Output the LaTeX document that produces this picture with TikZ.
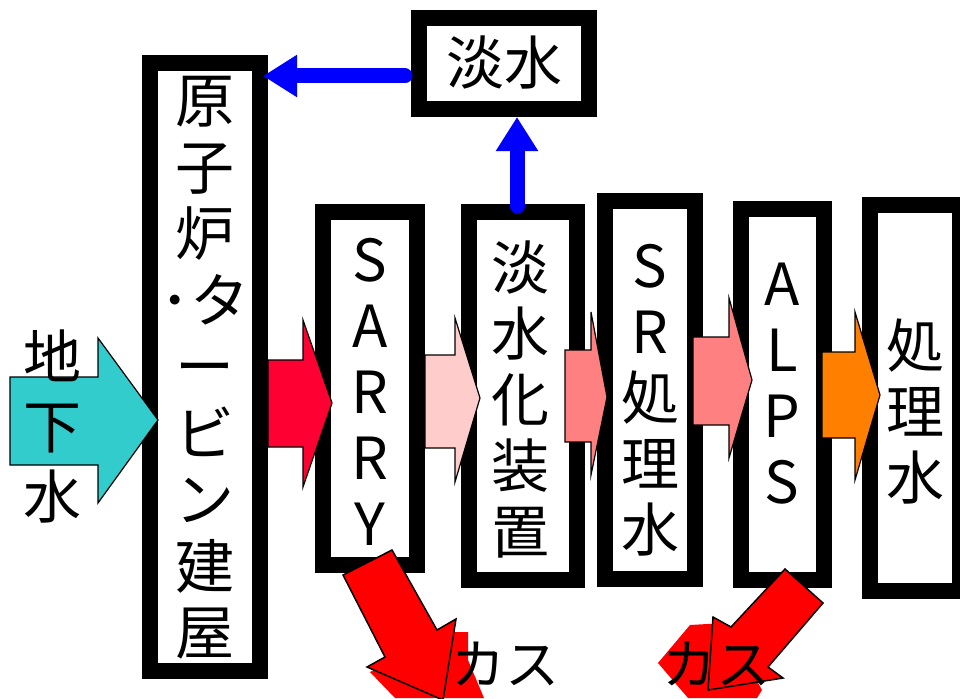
\documentclass[tikz,border=0pt]{standalone}
\usepackage{fontspec}
\setmainfont{Noto Sans CJK JP}
\usetikzlibrary{arrows.meta}
\definecolor{tealA}{RGB}{51,204,204}
\definecolor{redA}{RGB}{255,0,51}
\definecolor{pinkA}{RGB}{255,204,204}
\definecolor{pinkB}{RGB}{255,128,128}
\definecolor{orangeA}{RGB}{255,128,0}
\definecolor{blueA}{RGB}{0,0,255}
\definecolor{gasred}{RGB}{255,0,0}
\begin{document}
\begin{tikzpicture}[x=1pt,y=-1pt,
  box/.style={draw=black,line width=16pt,fill=white,inner sep=0pt},
  blockarrow/.style={draw=black,line width=1.2pt,line join=miter},
  gasarrow/.style={draw=black,line width=1.5pt,fill=gasred,line join=miter},
  bluearrow/.style={draw=blueA,line width=15pt,line cap=round,-{Triangle[length=34pt,width=40pt]}},
  txt/.style={align=center,inner sep=0pt},
  big/.style={font=\fontsize{58}{66}\selectfont},
]
\useasboundingbox (0,0) rectangle (960,698);
\clip (0,0) rectangle (960,698);
\fill[white] (0,0) rectangle (960,698);

% red background blobs behind the gas labels
\fill[gasred] (370,672) -- (455,632) -- (468,632) -- (468,660) -- (484,698) -- (395,698) -- cycle;
\fill[gasred] (658,663) -- (690,625) -- (725,623) -- (762,690) -- (757,698) -- (688,698) -- cycle;

% boxes
\node[box,minimum width=110pt,minimum height=608pt] (b1) at (205,367) {};
\node[box,minimum width=94pt,minimum height=353pt] (b2) at (370,388.5) {};
\node[box,minimum width=108pt,minimum height=368pt] (b3) at (523,396) {};
\node[box,minimum width=90pt,minimum height=378pt] (b4) at (650,390) {};
\node[box,minimum width=83pt,minimum height=371pt] (b5) at (782.5,394.5) {};
\node[box,minimum width=90pt,minimum height=386pt] (b6) at (915,398) {};
\node[box,minimum width=170pt,minimum height=91pt] (b7) at (504,63.5) {};

% block arrows
\draw[blockarrow,fill=tealA] (10,377) -- (98,377) -- (98,338) -- (158,420) -- (98,503) -- (98,465) -- (10,465) -- cycle;
\draw[blockarrow,fill=redA] (268,360) -- (303,360) -- (303,320) -- (332,403) -- (303,487) -- (303,447) -- (268,447) -- cycle;
\draw[blockarrow,fill=pinkA] (425,355) -- (455,355) -- (455,318) -- (480,398) -- (455,482) -- (455,448) -- (425,448) -- cycle;
\draw[blockarrow,fill=pinkB] (565,350) -- (591,350) -- (591,312) -- (607,397) -- (591,475) -- (591,442) -- (565,442) -- cycle;
\draw[blockarrow,fill=pinkB] (693,337) -- (729,337) -- (729,298) -- (752,380) -- (729,458) -- (729,425) -- (693,425) -- cycle;
\draw[blockarrow,fill=orangeA] (822,352) -- (855,352) -- (855,312) -- (880,395) -- (855,480) -- (855,438) -- (822,438) -- cycle;

% blue arrows
\coordinate (h1) at (405,76);
\draw[bluearrow,shorten >=-5pt] (h1) -- (h1 -| b1.east);
\coordinate (v1) at (517,206);
\draw[bluearrow] (v1) -- (v1 |- b7.south);

% gas arrows
\draw[gasarrow] (343,575) -- (385,657) -- (367,667) -- (443,700) -- (456,619) -- (437,630) -- (392,550) -- cycle;
\draw[gasarrow] (785,569) -- (731,627) -- (713,617) -- (708,690) -- (783,678) -- (768,667) -- (823,603) -- cycle;

% texts
\node[txt,font=\fontsize{59}{66.5}\selectfont] (t1) at (205,368) {原\\子\\炉\\･タ\\ー\\ビ\\ン\\建\\屋};
\node[txt,big] (t2) at (370,392) {S\\A\\R\\R\\Y};
\node[txt,big] (t3) at (520,399) {淡\\水\\化\\装\\置};
\node[txt,big] (t4) at (650,400) {S\\R\\処\\理\\水};
\node[txt,big] (t5) at (782,384) {A\\L\\P\\S};
\node[txt,big] (t6) at (915,412) {処\\理\\水};
\node[txt,big] (t7) at (504,62) {淡水};
\node[txt,font=\fontsize{58}{70}\selectfont] (tg) at (52,426) {地\\下\\水};
\node[txt,font=\fontsize{54}{60}\selectfont] (k1) at (505,664) {カス};
\node[txt,font=\fontsize{54}{60}\selectfont] (k2) at (716,664) {カス};
\end{tikzpicture}
\end{document}
